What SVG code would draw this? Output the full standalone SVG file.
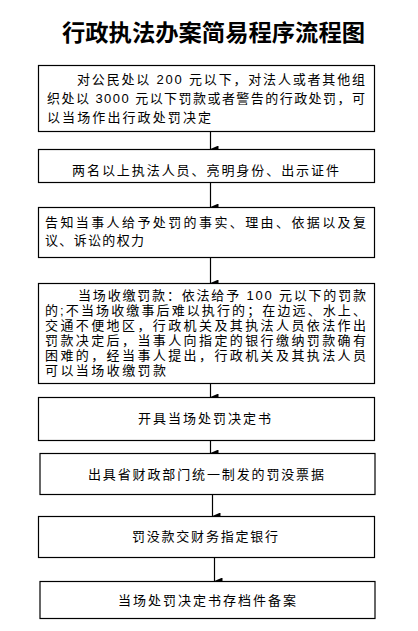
<svg xmlns="http://www.w3.org/2000/svg" width="418" height="631" viewBox="0 0 418 631">
<style>
.box{fill:#fff;stroke:#000;stroke-width:1.2}
.t{font-family:"Liberation Sans","Noto Sans CJK SC",sans-serif;font-size:13px;fill:#000}
.title{font-family:"Noto Sans CJK SC","Liberation Sans",sans-serif;font-size:23px;font-weight:bold;fill:#000}
.conn line{stroke:#000;stroke-width:1.2}
</style>
<defs>
<marker id="ah" markerWidth="7" markerHeight="8" refX="3.5" refY="8" orient="auto" markerUnits="userSpaceOnUse" viewBox="0 0 7 8">
<path d="M0,0 L7,0 L3.5,8 Z" fill="#000"/>
</marker>
</defs>
<rect width="418" height="631" fill="#fff"/>
<text class="title" x="62" y="41" textLength="303" lengthAdjust="spacingAndGlyphs">行政执法办案简易程序流程图</text>
<g class="conn">
<line x1="210.5" y1="131.5" x2="210.5" y2="149" marker-end="url(#ah)"/>
<line x1="210.5" y1="182.5" x2="210.5" y2="207" marker-end="url(#ah)"/>
<line x1="210.5" y1="257.5" x2="210.5" y2="283" marker-end="url(#ah)"/>
<line x1="210.5" y1="383.5" x2="210.5" y2="397" marker-end="url(#ah)"/>
<line x1="210.5" y1="440.5" x2="210.5" y2="453" marker-end="url(#ah)"/>
<line x1="212.5" y1="494.5" x2="212.5" y2="516" marker-end="url(#ah)"/>
<line x1="214.5" y1="557.5" x2="214.5" y2="581" marker-end="url(#ah)"/>
</g>
<g id="n1">
<rect class="box" x="38.5" y="65.5" width="336" height="66"/>
<text class="t" x="77" y="84" textLength="288" lengthAdjust="spacing">对公民处以 200 元以下，对法人或者其他组</text>
<text class="t" x="47" y="103" textLength="318" lengthAdjust="spacing">织处以 3000 元以下罚款或者警告的行政处罚，可</text>
<text class="t" x="47" y="122" textLength="164" lengthAdjust="spacing">以当场作出行政处罚决定</text>
</g>
<g id="n2">
<rect class="box" x="38.5" y="149.5" width="336" height="33"/>
<text class="t" x="72" y="175" textLength="267" lengthAdjust="spacing">两名以上执法人员、亮明身份、出示证件</text>
</g>
<g id="n3">
<rect class="box" x="38.5" y="207.5" width="336" height="50"/>
<text class="t" x="45" y="227" textLength="321" lengthAdjust="spacing">告知当事人给予处罚的事实、理由、依据以及复</text>
<text class="t" x="45" y="245" textLength="99" lengthAdjust="spacing">议、诉讼的权力</text>
</g>
<g id="n4">
<rect class="box" x="38.5" y="283.5" width="336" height="100"/>
<text class="t" x="78" y="300" textLength="288" lengthAdjust="spacing">当场收缴罚款：依法给予 100 元以下的罚款</text>
<text class="t" x="45" y="315" textLength="321" lengthAdjust="spacing">的;不当场收缴事后难以执行的；在边远、水上、</text>
<text class="t" x="45" y="330" textLength="321" lengthAdjust="spacing">交通不便地区，行政机关及其执法人员依法作出</text>
<text class="t" x="45" y="345" textLength="321" lengthAdjust="spacing">罚款决定后，当事人向指定的银行缴纳罚款确有</text>
<text class="t" x="45" y="360" textLength="321" lengthAdjust="spacing">困难的，经当事人提出，行政机关及其执法人员</text>
<text class="t" x="45" y="375" textLength="121" lengthAdjust="spacing">可以当场收缴罚款</text>
</g>
<g id="n5">
<rect class="box" x="38.5" y="397.5" width="336" height="43"/>
<text class="t" x="138" y="423" textLength="133" lengthAdjust="spacing">开具当场处罚决定书</text>
</g>
<g id="n6">
<rect class="box" x="40" y="453.5" width="335" height="41"/>
<text class="t" x="88" y="479" textLength="236" lengthAdjust="spacing">出具省财政部门统一制发的罚没票据</text>
</g>
<g id="n7">
<rect class="box" x="38.5" y="516.5" width="336" height="41"/>
<text class="t" x="132" y="541" textLength="146" lengthAdjust="spacing">罚没款交财务指定银行</text>
</g>
<g id="n8">
<rect class="box" x="40" y="581.5" width="335" height="37"/>
<text class="t" x="118" y="605" textLength="178" lengthAdjust="spacing">当场处罚决定书存档件备案</text>
</g>
</svg>
